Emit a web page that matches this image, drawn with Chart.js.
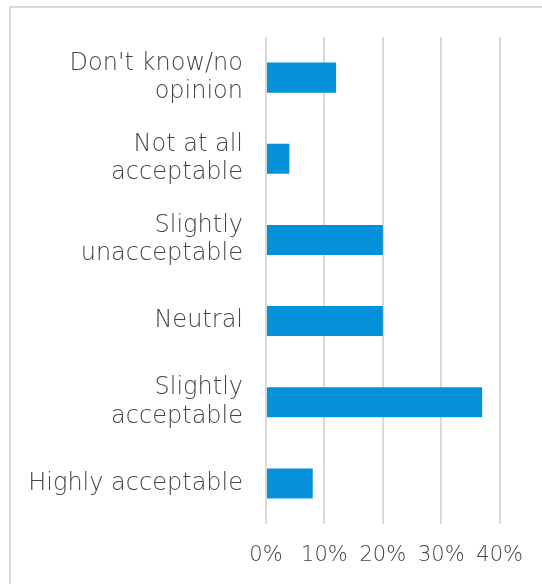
<!DOCTYPE html>
<html>
<head>
<meta charset="utf-8">
<script src="https://cdn.jsdelivr.net/npm/chart.js@4"></script>
<style>
  html, body { margin: 0; padding: 0; background: #fff; }
  #wrap { position: relative; width: 542px; height: 584px; overflow: hidden; }
  #frame { position: absolute; left: 9px; top: 6px; width: 600px; height: 640px;
           border-left: 2px solid #d9d9d9; border-top: 2px solid #d9d9d9; }
  #myChart { position: absolute; left: 0; top: 0; }
</style>
</head>
<body>
<div id="wrap">
  <div id="frame"></div>
  <canvas id="myChart" width="542" height="584"></canvas>
</div>
<script>
let chart

const categories = [
    ["Don't know/no", "opinion"],
    ["Not at all", "acceptable"],
    ["Slightly", "unacceptable"],
    "Neutral",
    ["Slightly", "acceptable"],
    "Highly acceptable"
]
const shares = [12, 4, 20, 20, 37, 8]
const tickValues = [0, 10, 20, 30, 40]

const labelFont = { family: 'DejaVu Sans', size: 24, weight: 300 }
const textColor = '#454545'

function showChart(){
    chart && chart.destroy()
    chart = new Chart(document.getElementById('myChart'), {
        type: 'bar',
        data: {
            labels: categories,
            datasets: [{
                data: shares,
                backgroundColor: '#0591d9',
                categoryPercentage: 0.74,
                barPercentage: 0.5
            }]
        },
        options: {
            indexAxis: 'y',
            responsive: false,
            animation: false,
            layout: { padding: { top: 36, right: 41, left: 0, bottom: 0 } },
            plugins: {
                legend: { display: false },
                tooltip: { enabled: false }
            },
            scales: {
                x: {
                    min: 0,
                    max: 40,
                    afterBuildTicks: s => { s.ticks = tickValues.map(v => ({ value: v })) },
                    afterFit: s => { s.height = 60 },
                    grid: { color: '#d9d9d9', lineWidth: 2, drawTicks: false },
                    border: { display: false },
                    ticks: {
                        padding: 19,
                        color: textColor,
                        font: { ...labelFont, size: 21 },
                        maxRotation: 0,
                        callback: v => v + '%'
                    }
                },
                y: {
                    afterFit: s => { s.width = 266 },
                    grid: { display: false, drawTicks: false },
                    border: { display: false },
                    ticks: {
                        padding: 23,
                        color: textColor,
                        font: { ...labelFont, lineHeight: 1.17 }
                    }
                }
            }
        }
    })
}

showChart()
</script>
</body>
</html>
